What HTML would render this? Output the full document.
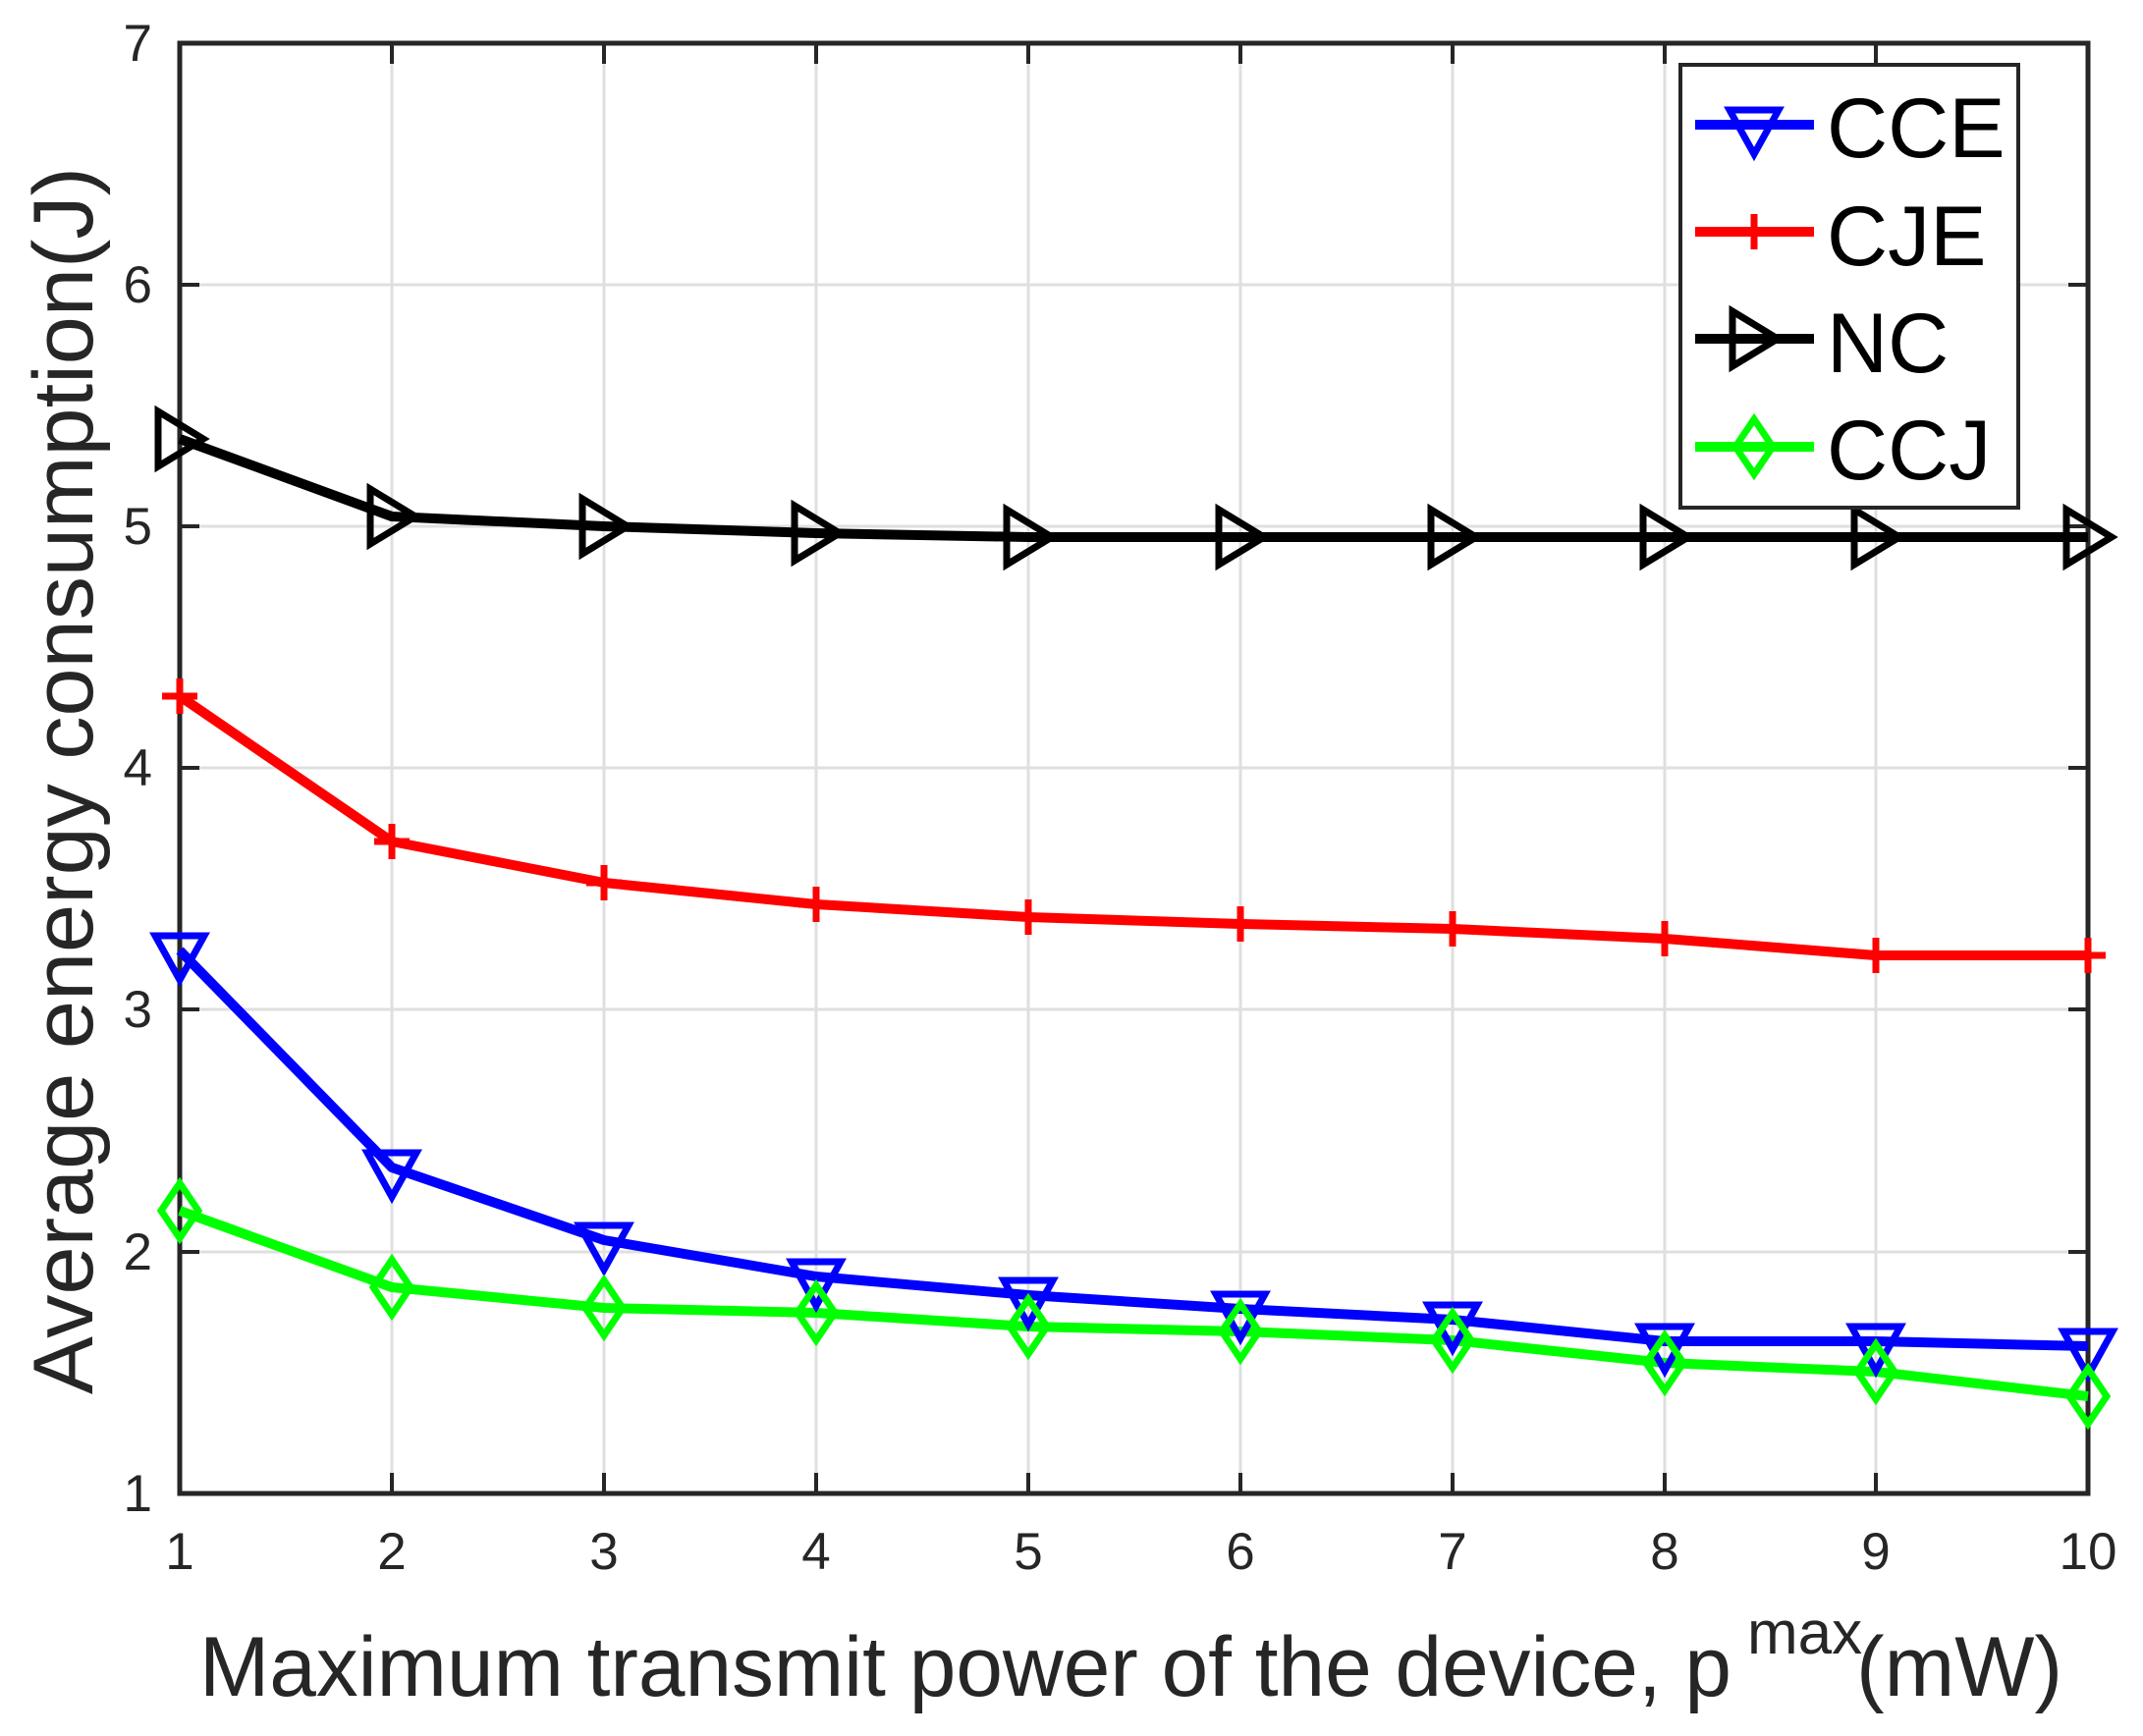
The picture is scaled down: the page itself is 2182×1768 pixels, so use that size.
<!DOCTYPE html>
<html><head><meta charset="utf-8"><style>html,body{margin:0;padding:0;background:#fff}svg{display:block}</style></head>
<body>
<svg width="2182" height="1768" viewBox="0 0 2182 1768" xmlns="http://www.w3.org/2000/svg" font-family="Liberation Sans, Arial, sans-serif">
<defs>
<symbol id="tri" overflow="visible"><polygon points="-25,-15 25,-15 0,30" fill="none" stroke="#0000ff" stroke-width="7"/></symbol>
<symbol id="rtri" overflow="visible"><polygon points="-22,-28 24,0 -22,28" fill="none" stroke="#000" stroke-width="7"/></symbol>
<symbol id="plus" overflow="visible"><path d="M-18,0H18M0,-18V18" stroke="#ff0000" stroke-width="7"/></symbol>
<symbol id="dia" overflow="visible"><polygon points="0,-28 19,0 0,28 -19,0" fill="none" stroke="#00ff00" stroke-width="7"/></symbol>
</defs>
<g stroke="#dfdfdf" stroke-width="3">
<line x1="399" y1="44" x2="399" y2="1521"/><line x1="615" y1="44" x2="615" y2="1521"/><line x1="831" y1="44" x2="831" y2="1521"/><line x1="1047" y1="44" x2="1047" y2="1521"/><line x1="1263" y1="44" x2="1263" y2="1521"/><line x1="1479" y1="44" x2="1479" y2="1521"/><line x1="1695" y1="44" x2="1695" y2="1521"/><line x1="1910" y1="44" x2="1910" y2="1521"/>
<line x1="183" y1="290" x2="2126" y2="290"/><line x1="183" y1="536" x2="2126" y2="536"/><line x1="183" y1="782" x2="2126" y2="782"/><line x1="183" y1="1028" x2="2126" y2="1028"/><line x1="183" y1="1275" x2="2126" y2="1275"/>
</g>
<g stroke="#262626" stroke-width="4">
<path d="M399,1521v-21M615,1521v-21M831,1521v-21M1047,1521v-21M1263,1521v-21M1479,1521v-21M1695,1521v-21M1910,1521v-21"/>
<path d="M399,44v21M615,44v21M831,44v21M1047,44v21M1263,44v21M1479,44v21M1695,44v21M1910,44v21"/>
<path d="M183,290h20M183,536h20M183,782h20M183,1028h20M183,1275h20"/>
<path d="M2126,290h-20M2126,536h-20M2126,782h-20M2126,1028h-20M2126,1275h-20"/>
</g>
<rect x="183" y="44" width="1943" height="1477" fill="none" stroke="#262626" stroke-width="5"/>
<g font-size="53" fill="#262626" text-anchor="middle">
<text x="183" y="1598">1</text><text x="399" y="1598">2</text><text x="615" y="1598">3</text><text x="831" y="1598">4</text><text x="1047" y="1598">5</text><text x="1263" y="1598">6</text><text x="1479" y="1598">7</text><text x="1695" y="1598">8</text><text x="1910" y="1598">9</text><text x="2126" y="1598">10</text>
</g>
<g font-size="53" fill="#262626" text-anchor="end">
<text x="155" y="62">7</text><text x="155" y="308">6</text><text x="155" y="554">5</text><text x="155" y="800">4</text><text x="155" y="1046">3</text><text x="155" y="1293">2</text><text x="155" y="1539">1</text>
</g>
<text x="203" y="1727" font-size="86" fill="#262626" textLength="1560" lengthAdjust="spacingAndGlyphs">Maximum transmit power of the device, p</text>
<text x="1779" y="1684" font-size="62" fill="#262626">max</text>
<text x="1890" y="1727" font-size="86" fill="#262626">(mW)</text>
<text transform="translate(94,795) rotate(-90)" font-size="86" fill="#262626" text-anchor="middle" textLength="1250" lengthAdjust="spacingAndGlyphs">Average energy consumption(J)</text>
<g fill="none" stroke-width="10" stroke-linejoin="round">
<polyline stroke="#000" points="183,447 399,526 615,536 831,543 1047,547 1263,547 1479,547 1695,547 1910,547 2126,547"/>
<polyline stroke="#ff0000" points="183,709 399,857 615,899 831,921 1047,934 1263,941 1479,946 1695,956 1910,973 2126,973"/>
<polyline stroke="#0000ff" points="183,968 399,1189 615,1263 831,1300 1047,1319 1263,1333 1479,1344 1695,1366 1910,1366 2126,1371"/>
<polyline stroke="#00ff00" points="183,1233 399,1311 615,1332 831,1337 1047,1351 1263,1356 1479,1365 1695,1388 1910,1397 2126,1422"/>
</g>
<g>
<use href="#rtri" x="183" y="447"/><use href="#rtri" x="399" y="526"/><use href="#rtri" x="615" y="536"/><use href="#rtri" x="831" y="543"/><use href="#rtri" x="1047" y="547"/><use href="#rtri" x="1263" y="547"/><use href="#rtri" x="1479" y="547"/><use href="#rtri" x="1695" y="547"/><use href="#rtri" x="1910" y="547"/><use href="#rtri" x="2126" y="547"/>
<use href="#plus" x="183" y="709"/><use href="#plus" x="399" y="857"/><use href="#plus" x="615" y="899"/><use href="#plus" x="831" y="921"/><use href="#plus" x="1047" y="934"/><use href="#plus" x="1263" y="941"/><use href="#plus" x="1479" y="946"/><use href="#plus" x="1695" y="956"/><use href="#plus" x="1910" y="973"/><use href="#plus" x="2126" y="973"/>
<use href="#tri" x="183" y="968"/><use href="#tri" x="399" y="1189"/><use href="#tri" x="615" y="1263"/><use href="#tri" x="831" y="1300"/><use href="#tri" x="1047" y="1319"/><use href="#tri" x="1263" y="1333"/><use href="#tri" x="1479" y="1344"/><use href="#tri" x="1695" y="1366"/><use href="#tri" x="1910" y="1366"/><use href="#tri" x="2126" y="1371"/>
<use href="#dia" x="183" y="1233"/><use href="#dia" x="399" y="1311"/><use href="#dia" x="615" y="1332"/><use href="#dia" x="831" y="1337"/><use href="#dia" x="1047" y="1351"/><use href="#dia" x="1263" y="1356"/><use href="#dia" x="1479" y="1365"/><use href="#dia" x="1695" y="1388"/><use href="#dia" x="1910" y="1397"/><use href="#dia" x="2126" y="1422"/>
</g>
<rect x="1711" y="66" width="344" height="451" fill="#fff" stroke="#262626" stroke-width="4"/>
<g stroke-width="10">
<line x1="1726" y1="127" x2="1847" y2="127" stroke="#0000ff"/>
<line x1="1726" y1="236" x2="1847" y2="236" stroke="#ff0000"/>
<line x1="1726" y1="345" x2="1847" y2="345" stroke="#000"/>
<line x1="1726" y1="455" x2="1847" y2="455" stroke="#00ff00"/>
</g>
<use href="#tri" x="1786" y="127"/><use href="#plus" x="1786" y="236"/><use href="#rtri" x="1786" y="345"/><use href="#dia" x="1786" y="455"/>
<g font-size="86" fill="#000">
<text x="1860" y="160">CCE</text><text x="1860" y="270">CJE</text><text x="1860" y="379">NC</text><text x="1860" y="488">CCJ</text>
</g>
</svg>
</body></html>
